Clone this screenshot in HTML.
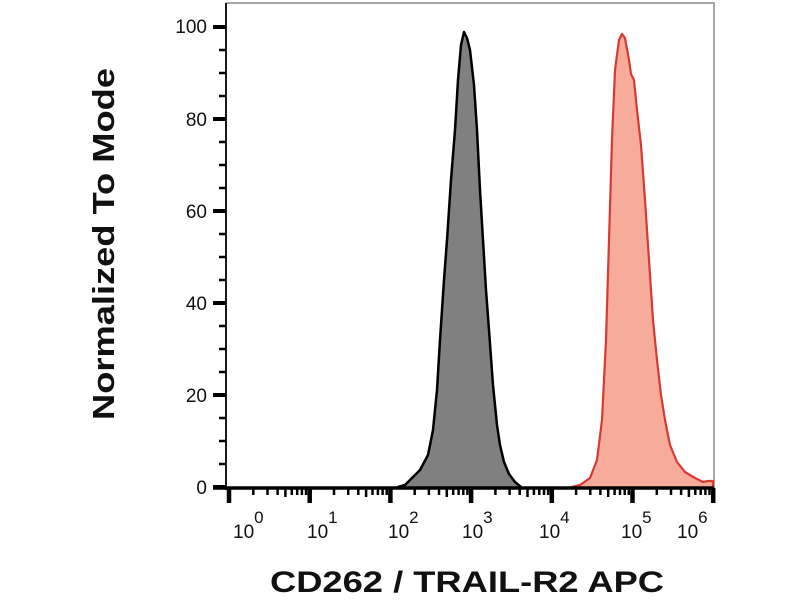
<!DOCTYPE html>
<html><head><style>html,body{margin:0;padding:0;background:#fff;}svg{display:block}</style></head>
<body>
<svg width="800" height="600" viewBox="0 0 800 600" xmlns="http://www.w3.org/2000/svg" font-family="Liberation Sans, sans-serif">
<rect width="800" height="600" fill="#fff"/>
<path d="M226,3 H714 V488" fill="none" stroke="#888" stroke-width="1.5"/>
<path d="M572,487 L580,485 L590,478 L597,460 L602,420 L606,340 L609,240 L612,140 L615,70 L619,40 L622,34 L625,38 L629,60 L631,74 L634,80 L637,110 L641,145 L645,200 L649,260 L653,320 L657,360 L661,395 L665,420 L670,445 L677,462 L685,472 L695,478 L703,482 L708,481 L713,481 L713,488 L572,488 Z" fill="#f6ab9b" stroke="#d63a32" stroke-width="2.2" stroke-linejoin="round"/>
<path d="M398,487 L405,485 L412,478 L420,470 L428,455 L433,430 L437,390 L440,340 L444,280 L447,240 L451,180 L455,130 L458,80 L461,45 L464,32 L467,38 L470,50 L474,85 L477,130 L480,190 L483,240 L486,290 L489,330 L493,385 L497,425 L500,445 L504,462 L509,474 L515,482 L521,487 L521,488 L398,488 Z" fill="#808080" stroke="#000" stroke-width="2.5" stroke-linejoin="round"/>
<line x1="400" y1="487" x2="520" y2="487" stroke="#a04040" stroke-width="1"/>
<line x1="226" y1="3" x2="226" y2="490" stroke="#000" stroke-width="1.8"/>
<path stroke="#000" stroke-width="4" d="M213,27H226M213,119H226M213,211H226M213,303H226M213,395H226M213,487H226"/>
<path stroke="#000" stroke-width="2.5" d="M219,50H226M219,73H226M219,96H226M219,142H226M219,165H226M219,188H226M219,234H226M219,257H226M219,280H226M219,326H226M219,349H226M219,372H226M219,418H226M219,441H226M219,464H226"/>
<g font-size="19" text-anchor="end" fill="#111">
<text x="207" y="33">100</text><text x="207" y="126">80</text><text x="207" y="218">60</text>
<text x="207" y="310">40</text><text x="207" y="402">20</text><text x="207" y="494">0</text>
</g>
<line x1="213" y1="488" x2="714" y2="488" stroke="#000" stroke-width="3.5"/>
<path stroke="#000" stroke-width="4.5" d="M229,488V503M309.7,488V503M390.4,488V503M471.1,488V503M551.8,488V503M632.5,488V503M713.2,488V503"/>
<path stroke="#000" stroke-width="2.5" d="
M253.3,488V495M267.5,488V495M277.6,488V495M285.4,488V497M291.8,488V495M297.2,488V495M301.9,488V495M306,488V495
M334,488V495M348.2,488V495M358.3,488V495M366.1,488V497M372.5,488V495M377.9,488V495M382.6,488V495M386.7,488V495
M414.7,488V495M428.9,488V495M439,488V495M446.8,488V497M453.2,488V495M458.6,488V495M463.3,488V495M467.4,488V495
M495.4,488V495M509.6,488V495M519.7,488V495M527.5,488V497M533.9,488V495M539.3,488V495M544,488V495M548.1,488V495
M576.1,488V495M590.3,488V495M600.4,488V495M608.2,488V497M614.6,488V495M620,488V495M624.7,488V495M628.8,488V495
M656.8,488V495M671,488V495M681.1,488V495M688.9,488V497M695.3,488V495M700.7,488V495M705.4,488V495M709.5,488V495"/>
<g font-size="19" fill="#111">
<text x="233" y="538">10<tspan dy="-15" font-size="17">0</tspan></text>
<text x="307" y="538">10<tspan dy="-15" font-size="17">1</tspan></text>
<text x="388" y="538">10<tspan dy="-15" font-size="17">2</tspan></text>
<text x="462" y="538">10<tspan dy="-15" font-size="17">3</tspan></text>
<text x="539" y="538">10<tspan dy="-15" font-size="17">4</tspan></text>
<text x="621" y="538">10<tspan dy="-15" font-size="17">5</tspan></text>
<text x="677" y="538">10<tspan dy="-15" font-size="17">6</tspan></text>
</g>
<text x="467" y="592" font-size="30" font-weight="bold" text-anchor="middle" textLength="394" lengthAdjust="spacingAndGlyphs" fill="#111">CD262 / TRAIL-R2 APC</text>
<text transform="translate(114,244) rotate(-90)" font-size="31" font-weight="bold" text-anchor="middle" textLength="352" lengthAdjust="spacingAndGlyphs" fill="#111">Normalized To Mode</text>
</svg>
</body></html>
